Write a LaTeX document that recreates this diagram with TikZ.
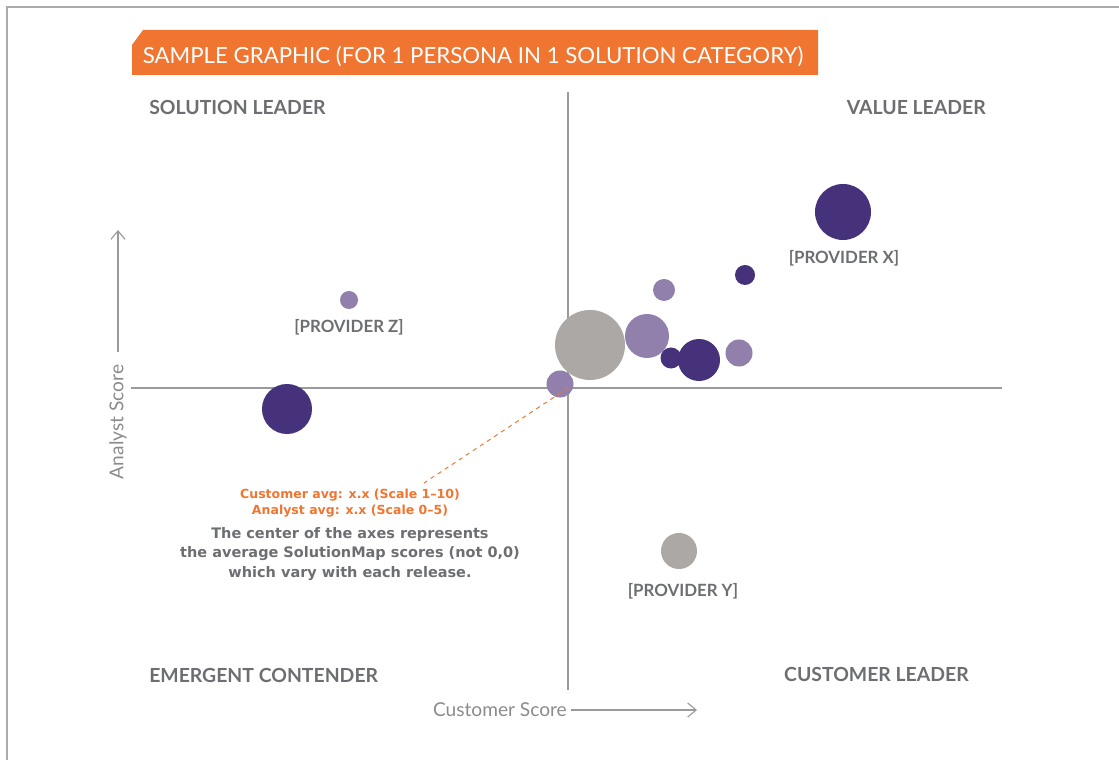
\documentclass[tikz,border=0pt]{standalone}
\usepackage{fontspec}
\setmainfont{Lato}
\newfontfamily\notefont{DejaVu Sans}
\usetikzlibrary{positioning,arrows.meta}

\definecolor{bannerorange}{HTML}{F07530}
\definecolor{darkpurple}{HTML}{46327A}
\definecolor{lightpurple}{HTML}{9180AC}
\definecolor{bubgray}{HTML}{ABA8A6}
\definecolor{labelgray}{HTML}{6D6E71}
\definecolor{axisgray}{HTML}{9A9A9A}
\definecolor{framegray}{HTML}{ABABAB}

\tikzset{
  bub/.style={circle, inner sep=0pt, minimum size=#1*0.05cm},
  darkbub/.style={bub=#1, fill=darkpurple},
  lightbub/.style={bub=#1, fill=lightpurple},
  graybub/.style={bub=#1, fill=bubgray},
  quadrant/.style={font=\bfseries\fontsize{13.8}{16}\selectfont, text=labelgray, inner sep=0pt},
  provider/.style={font=\bfseries\fontsize{12}{14}\selectfont, text=labelgray, inner sep=0pt, anchor=base},
  axislabel/.style={font=\fontsize{13.6}{16}\selectfont, text=axisgray!90!black, inner sep=0pt},
  axisarrow/.style={draw=axisgray, line width=0.8pt, -{Straight Barb[length=6pt,width=10pt]}},
}

\begin{document}
\begin{tikzpicture}[x=0.025cm, y=-0.025cm]
\useasboundingbox (0,0) rectangle (1119,760);

% frame
\draw[framegray, line width=2.1pt] (7,760) -- (7,7) -- (1119,7);

% banner
\fill[bannerorange] (132,45) -- (143,30) -- (818,30) -- (818,75) -- (132,75) -- cycle;
\node[text=white, font=\fontsize{15.8}{18}\selectfont, anchor=base, inner sep=0pt] (banner) at (473,64)
  {SAMPLE GRAPHIC (FOR 1 PERSONA IN 1 SOLUTION CATEGORY)};

% axes
\coordinate (origin) at (568,388);
\draw[axisgray, line width=0.8pt] (568,92) -- (568,690);
\draw[axisgray, line width=0.8pt] (131,388) -- (1002,388);

% quadrant names
\node[quadrant, anchor=base west] (solution) at (149,115) {SOLUTION LEADER};
\node[quadrant, anchor=base east] (value) at (986,115) {VALUE LEADER};
\node[quadrant, anchor=base west] (emergent) at (149,682) {EMERGENT CONTENDER};
\node[quadrant, anchor=base east] (customer) at (969,681) {CUSTOMER LEADER};

% bubbles
\node[darkbub=28] (px) at (843,212) {};
\node[darkbub=10] (d1) at (745,275) {};
\node[lightbub=11] (l1) at (664,290) {};
\node[lightbub=22] (l2) at (647,336) {};
\node[graybub=35] (avg) at (590,345) {};
\node[lightbub=13.5] (l3) at (739,353) {};
\node[darkbub=10.5] (d2) at (671,358) {};
\node[darkbub=21] (d3) at (699,360) {};
\node[lightbub=13.5] (l4) at (560,384) {};
\node[lightbub=9] (pz) at (349,300) {};
\node[darkbub=25] (d4) at (287,409) {};
\node[graybub=18] (py) at (679,551) {};

% provider names
\node[provider] (pxlabel) at (844,264) {[PROVIDER X]};
\node[provider] (pzlabel) at (349,333) {[PROVIDER Z]};
\node[provider] (pylabel) at (683,596) {[PROVIDER Y]};

% note on the centre
\coordinate (noteend) at (424,483);
\node[align=center, anchor=base, inner sep=0pt, text=bannerorange,
      font=\notefont\bfseries\fontsize{8.9}{12}\selectfont] (avgnote) at (350,515)
  {Customer avg: x.x (Scale 1\textendash10)\\Analyst avg: x.x (Scale 0\textendash5)};
\node[align=center, anchor=base, inner sep=0pt, text=labelgray,
      font=\notefont\bfseries\fontsize{10.3}{13.8}\selectfont] (centernote) at (350,577)
  {The center of the axes represents\\the average SolutionMap scores (not 0,0)\\which vary with each release.};
\draw[bannerorange, dashed, line width=0.7pt] (origin) -- (noteend);

% axis names
\coordinate (custend) at (697,710);
\coordinate (anaend) at (118,230);
\node[axislabel, anchor=base east] (custlabel) at (567,716) {Customer Score};
\node[axislabel, rotate=90, anchor=center] (analabel) at (118,422) {Analyst Score};
\draw[axisarrow] ([xshift=3pt]custlabel.east |- 0,710) -- (custend);
\draw[axisarrow] (118,352) -- (anaend);
\end{tikzpicture}
\end{document}
